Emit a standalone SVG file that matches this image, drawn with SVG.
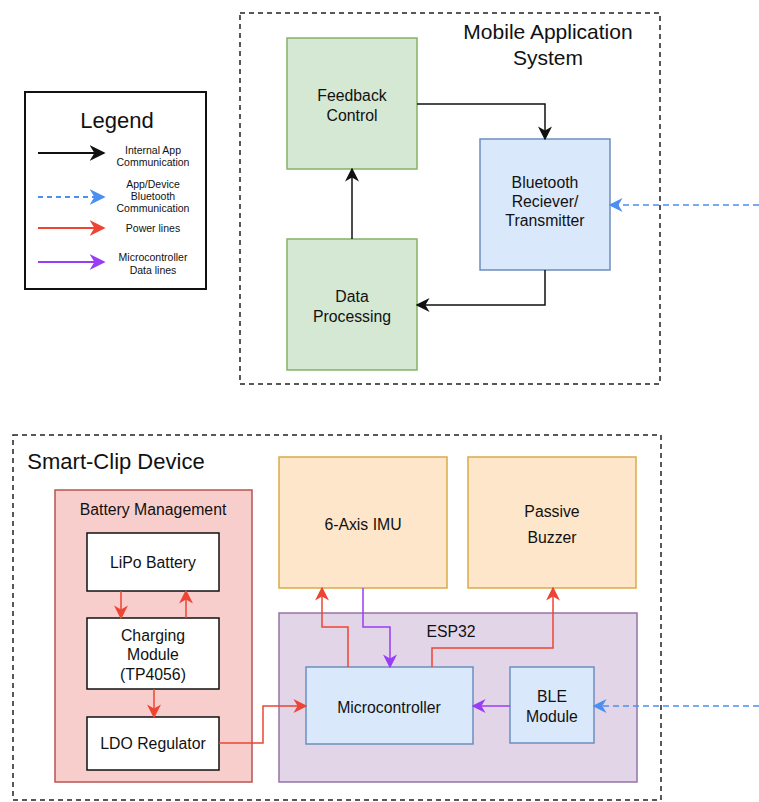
<svg xmlns="http://www.w3.org/2000/svg" width="759" height="802" viewBox="0 0 759 802">
<style>
text{font-family:"Liberation Sans",Arial,sans-serif;fill:#111;text-anchor:middle;dominant-baseline:central}
.t14{font-size:15.8px}
.t20{font-size:21px}
.t10{font-size:10.5px}
.dash{fill:none;stroke:#222;stroke-width:1.5;stroke-dasharray:5 4}
.green{fill:#d5e8d4;stroke:#82b366;stroke-width:1.5}
.blue{fill:#dae8fc;stroke:#6c8ebf;stroke-width:1.5}
.orange{fill:#fde6c9;stroke:#d9ab4a;stroke-width:1.5}
.red{fill:#f8cecc;stroke:#b85450;stroke-width:1.5}
.purple{fill:#e1d5e7;stroke:#9673a6;stroke-width:1.5}
.white{fill:#fff;stroke:#111;stroke-width:1.5}
.ck{fill:none;stroke:#111;stroke-width:1.5;marker-end:url(#mk)}
.cr{fill:none;stroke:#ee4433;stroke-width:1.5;marker-end:url(#mr)}
.cp{fill:none;stroke:#9a3cf5;stroke-width:1.5;marker-end:url(#mp)}
.cb{fill:none;stroke:#4a90f0;stroke-width:1.5;stroke-dasharray:6 4;marker-end:url(#mb)}
</style>
<defs>
<marker id="mk" viewBox="0 0 10 10" refX="9" refY="5" markerWidth="14" markerHeight="14" markerUnits="userSpaceOnUse" orient="auto"><path d="M0,0 L10,5 L0,10 L3,5 Z" fill="#111"/></marker>
<marker id="mr" viewBox="0 0 10 10" refX="9" refY="5" markerWidth="14" markerHeight="14" markerUnits="userSpaceOnUse" orient="auto"><path d="M0,0 L10,5 L0,10 L3,5 Z" fill="#ee4433"/></marker>
<marker id="mp" viewBox="0 0 10 10" refX="9" refY="5" markerWidth="14" markerHeight="14" markerUnits="userSpaceOnUse" orient="auto"><path d="M0,0 L10,5 L0,10 L3,5 Z" fill="#9a3cf5"/></marker>
<marker id="mb" viewBox="0 0 10 10" refX="9" refY="5" markerWidth="14" markerHeight="14" markerUnits="userSpaceOnUse" orient="auto"><path d="M0,0 L10,5 L0,10 L3,5 Z" fill="#4a90f0"/></marker>
<marker id="mkL" viewBox="0 0 10 10" refX="9" refY="5" markerWidth="16" markerHeight="16" markerUnits="userSpaceOnUse" orient="auto"><path d="M0,0 L10,5 L0,10 L3,5 Z" fill="#111"/></marker>
<marker id="mrL" viewBox="0 0 10 10" refX="9" refY="5" markerWidth="16" markerHeight="16" markerUnits="userSpaceOnUse" orient="auto"><path d="M0,0 L10,5 L0,10 L3,5 Z" fill="#ee4433"/></marker>
<marker id="mpL" viewBox="0 0 10 10" refX="9" refY="5" markerWidth="16" markerHeight="16" markerUnits="userSpaceOnUse" orient="auto"><path d="M0,0 L10,5 L0,10 L3,5 Z" fill="#9a3cf5"/></marker>
<marker id="mbL" viewBox="0 0 10 10" refX="9" refY="5" markerWidth="16" markerHeight="16" markerUnits="userSpaceOnUse" orient="auto"><path d="M0,0 L10,5 L0,10 L3,5 Z" fill="#4a90f0"/></marker>
</defs>
<rect width="759" height="802" fill="#fff"/>

<g id="legend">
<rect x="25" y="92" width="181" height="197" fill="#fff" stroke="#111" stroke-width="2"/>
<text x="117" y="120" class="t20" style="font-size:22px">Legend</text>
<path d="M38,153 H104" fill="none" stroke="#111" stroke-width="2" marker-end="url(#mkL)"/>
<text x="153" y="150" class="t10">Internal App</text>
<text x="153" y="162" class="t10">Communication</text>
<path d="M38,197 H104" fill="none" stroke="#4a90f0" stroke-width="2" stroke-dasharray="5 4" marker-end="url(#mbL)"/>
<text x="153" y="184" class="t10">App/Device</text>
<text x="153" y="196" class="t10">Bluetooth</text>
<text x="153" y="208" class="t10">Communication</text>
<path d="M38,228 H104" fill="none" stroke="#ee4433" stroke-width="2" marker-end="url(#mrL)"/>
<text x="153" y="228" class="t10">Power lines</text>
<path d="M38,262 H104" fill="none" stroke="#9a3cf5" stroke-width="2" marker-end="url(#mpL)"/>
<text x="153" y="257" class="t10">Microcontroller</text>
<text x="153" y="270" class="t10">Data lines</text>
</g>

<g id="mobile-app-system">
<rect x="240" y="13" width="420" height="371" class="dash"/>
<text x="548" y="31" class="t20">Mobile Application</text>
<text x="548" y="57" class="t20">System</text>
</g>
<g id="feedback-control">
<rect x="287" y="38" width="130" height="131" class="green"/>
<text x="352" y="95" class="t14">Feedback</text>
<text x="352" y="115" class="t14">Control</text>
</g>
<g id="data-processing">
<rect x="287" y="239" width="130" height="131" class="green"/>
<text x="352" y="296" class="t14">Data</text>
<text x="352" y="316" class="t14">Processing</text>
</g>
<g id="bluetooth-rt">
<rect x="480" y="139" width="130" height="131" class="blue"/>
<text x="545" y="182" class="t14">Bluetooth</text>
<text x="545" y="201" class="t14">Reciever/</text>
<text x="545" y="220" class="t14">Transmitter</text>
</g>

<g id="smart-clip-device">
<rect x="13" y="435" width="648" height="365" class="dash"/>
<text x="116" y="461" class="t20" style="font-size:22px">Smart-Clip Device</text>
</g>
<g id="battery-management">
<rect x="55" y="490" width="197" height="292" class="red"/>
<text x="153" y="509" class="t14">Battery Management</text>
</g>
<g id="lipo-battery">
<rect x="87" y="533" width="132" height="58" class="white"/>
<text x="153" y="562" class="t14">LiPo Battery</text>
</g>
<g id="charging-module">
<rect x="87" y="618" width="132" height="71" class="white"/>
<text x="153" y="635" class="t14">Charging</text>
<text x="153" y="654" class="t14">Module</text>
<text x="153" y="674" class="t14">(TP4056)</text>
</g>
<g id="ldo-regulator">
<rect x="87" y="717" width="132" height="53" class="white"/>
<text x="153" y="743" class="t14">LDO Regulator</text>
</g>
<g id="imu">
<rect x="279" y="457" width="168" height="131" class="orange"/>
<text x="363" y="524" class="t14">6-Axis IMU</text>
</g>
<g id="buzzer">
<rect x="468" y="457" width="168" height="131" class="orange"/>
<text x="552" y="511" class="t14">Passive</text>
<text x="552" y="537" class="t14">Buzzer</text>
</g>
<g id="esp32">
<rect x="279" y="613" width="358" height="169" class="purple"/>
<text x="451" y="631" class="t14">ESP32</text>
</g>
<g id="microcontroller">
<rect x="306" y="667" width="167" height="77" class="blue"/>
<text x="389" y="707" class="t14">Microcontroller</text>
</g>
<g id="ble-module">
<rect x="510" y="667" width="84" height="76" class="blue"/>
<text x="552" y="696" class="t14">BLE</text>
<text x="552" y="716" class="t14">Module</text>
</g>

<g id="connectors">
<path d="M417,104 H545 V139" class="ck"/>
<path d="M352,239 V169" class="ck"/>
<path d="M545,270 V305 H417" class="ck"/>
<path d="M759,205 H610" class="cb"/>
<path d="M121,591 V618" class="cr"/>
<path d="M186,618 V591" class="cr"/>
<path d="M154,689 V717" class="cr"/>
<path d="M219,743 H263 V706 H306" class="cr"/>
<path d="M348,667 V627 H322 V588" class="cr"/>
<path d="M363,588 V627 H390 V667" class="cp"/>
<path d="M432,667 V648 H553 V588" class="cr"/>
<path d="M510,706 H473" class="cp"/>
<path d="M759,706 H594" class="cb"/>
</g>
</svg>
